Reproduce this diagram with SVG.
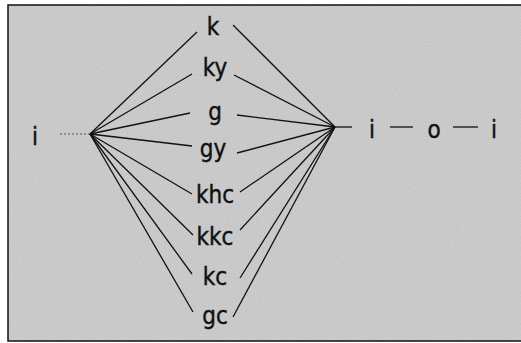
<svg xmlns="http://www.w3.org/2000/svg" width="521" height="343" viewBox="0 0 521 343">
  <defs>
    <filter id="grain" x="0" y="0" width="100%" height="100%">
      <feTurbulence type="fractalNoise" baseFrequency="0.9" numOctaves="1" seed="3" result="n"/>
      <feColorMatrix in="n" type="matrix" values="0 0 0 0 0  0 0 0 0 0  0 0 0 0 0  0 0 0 0.22 0" result="d"/>
      <feComposite in="d" in2="SourceGraphic" operator="in" result="dm"/>
      <feMerge><feMergeNode in="SourceGraphic"/><feMergeNode in="dm"/></feMerge>
    </filter>
  </defs>
  <style>
    text { font-family: "DejaVu Sans Condensed", "DejaVu Sans", sans-serif; font-size: 24px; fill: #111; stroke: #111; stroke-width: 0.4; text-anchor: middle; }
    .e line { stroke: #111; stroke-width: 1.3; }
    .e .faint { stroke: #555; stroke-width: 1; stroke-dasharray: 2 2; }
    .frame { fill: none; stroke: #111; stroke-width: 1.5; }
  </style>
  <rect x="0" y="0" width="521" height="343" fill="#ffffff"/>
  <rect x="8" y="5" width="513" height="336" fill="#d4d4d4" filter="url(#grain)"/>
  <path class="frame" d="M521 5 H8 V341 H521"/>

  <g class="e" id="connectors">
    <line class="faint" x1="60" y1="134" x2="90" y2="134"/>
    <line x1="90" y1="134" x2="197" y2="32"/>
    <line x1="90" y1="134" x2="192" y2="74"/>
    <line x1="90" y1="134" x2="190" y2="113"/>
    <line x1="90" y1="134" x2="192" y2="146"/>
    <line x1="90" y1="134" x2="192" y2="194"/>
    <line x1="90" y1="134" x2="193" y2="235"/>
    <line x1="90" y1="134" x2="192" y2="274"/>
    <line x1="90" y1="134" x2="193" y2="312"/>
    <line x1="233" y1="25" x2="335" y2="127"/>
    <line x1="234" y1="75" x2="335" y2="127"/>
    <line x1="237" y1="115" x2="335" y2="127"/>
    <line x1="237" y1="153" x2="335" y2="127"/>
    <line x1="240" y1="192" x2="335" y2="127"/>
    <line x1="240" y1="230" x2="335" y2="127"/>
    <line x1="240" y1="278" x2="335" y2="127"/>
    <line x1="233" y1="317" x2="335" y2="127"/>
    <line x1="335" y1="127" x2="352" y2="127"/>
    <line x1="390" y1="127" x2="413" y2="127"/>
    <line x1="453" y1="127" x2="478" y2="127"/>
  </g>

  <g id="n-i-left"><text x="35" y="145">i</text></g>
  <g id="n-k"><text x="213" y="35">k</text></g>
  <g id="n-ky"><text x="215" y="76">ky</text></g>
  <g id="n-g"><text x="215" y="120">g</text></g>
  <g id="n-gy"><text x="213" y="157">gy</text></g>
  <g id="n-khc"><text x="215" y="203">khc</text></g>
  <g id="n-kkc"><text x="215" y="245">kkc</text></g>
  <g id="n-kc"><text x="215" y="285">kc</text></g>
  <g id="n-gc"><text x="215" y="324">gc</text></g>
  <g id="n-i-right1"><text x="372" y="138">i</text></g>
  <g id="n-o"><text x="434" y="138">o</text></g>
  <g id="n-i-right2"><text x="494" y="138">i</text></g>
</svg>
